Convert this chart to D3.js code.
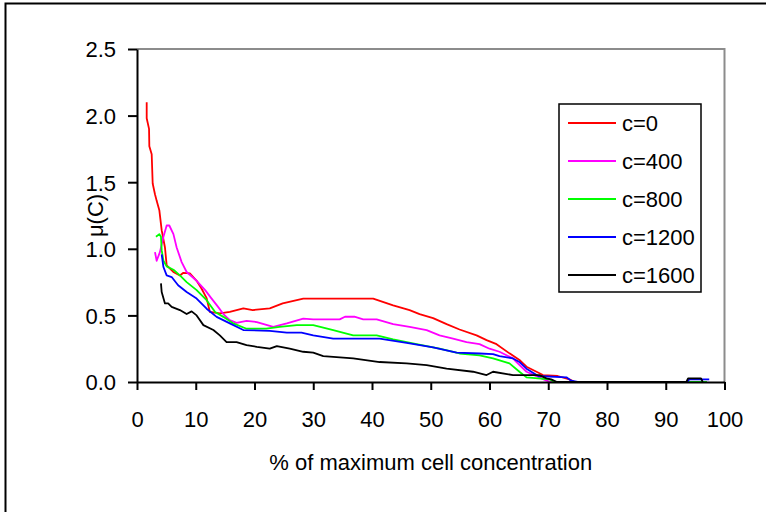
<!DOCTYPE html>
<html>
<head>
<meta charset="utf-8">
<script src="https://cdn.jsdelivr.net/npm/d3@7"></script>
<style>
  body { margin: 0; background: #fff; }
  svg { font-family: Arial, "Liberation Sans", sans-serif; }
</style>
</head>
<body>
<svg class="chart"></svg>
<script>
var xRed = [1.65, 1.65, 2.05, 2.1, 2.5, 2.67, 3.06, 3.35, 3.8, 4.2, 4.76, 5.05, 6.18, 7.3, 7.9, 9, 10.15, 11, 11.85, 12.4, 14.1, 15.8, 18.1, 19.7, 22.6, 24.8, 28.3, 32.8, 40.2, 43.6, 46.4, 48.1, 50.4, 52.7, 54.9, 57.8, 59.5, 61.2, 63.4, 65.1, 66.3, 68, 69.1, 71.6, 73.6, 74.5, 97];
var yRed = [2.1, 1.98, 1.9, 1.77, 1.71, 1.49, 1.41, 1.36, 1.29, 1.14, 1.01, 0.875, 0.826, 0.80, 0.82, 0.815, 0.76, 0.70, 0.63, 0.526, 0.515, 0.526, 0.553, 0.54, 0.553, 0.59, 0.626, 0.626, 0.626, 0.576, 0.54, 0.51, 0.48, 0.434, 0.394, 0.35, 0.314, 0.284, 0.215, 0.165, 0.115, 0.077, 0.052, 0.045, 0.02, 0, 0];

var xMag = [3.06, 3.35, 3.9, 4.5, 5.05, 5.5, 6.2, 6.75, 7.6, 8.45, 10.15, 11.6, 12.7, 13.8, 14.7, 15.8, 16.95, 18.65, 20.4, 23.2, 25.5, 28.3, 30, 34.5, 35.4, 37, 38.5, 40.8, 43.6, 46.4, 49.3, 51.5, 53.8, 56.1, 58.3, 60, 61.7, 64, 64.6, 66.3, 68.2, 69.7, 70.5, 97];
var yMag = [0.975, 0.91, 0.975, 1.09, 1.175, 1.175, 1.11, 1.01, 0.90, 0.826, 0.76, 0.69, 0.626, 0.564, 0.51, 0.464, 0.444, 0.459, 0.45, 0.414, 0.44, 0.476, 0.47, 0.47, 0.49, 0.49, 0.47, 0.47, 0.434, 0.414, 0.39, 0.35, 0.326, 0.30, 0.284, 0.25, 0.227, 0.177, 0.15, 0.077, 0.04, 0.01, 0, 0];

var xGreen = [3.23, 3.8, 4.08, 4.2, 4.5, 5.05, 6.2, 7.3, 8.45, 10.15, 11.85, 13.3, 14.7, 16.4, 18.65, 22, 24.3, 27.2, 30, 33.4, 36.8, 40.8, 43.6, 47.6, 51.5, 54.9, 58.3, 60.6, 63.4, 65.1, 66.3, 70.2, 71, 97];
var yGreen = [1.09, 1.11, 1.09, 0.99, 0.91, 0.868, 0.843, 0.80, 0.75, 0.69, 0.614, 0.526, 0.489, 0.44, 0.40, 0.40, 0.414, 0.427, 0.427, 0.39, 0.35, 0.35, 0.32, 0.284, 0.25, 0.214, 0.2, 0.177, 0.14, 0.077, 0.035, 0.02, 0, 0];

var xBlue = [4.2, 4.5, 5.05, 5.9, 7.0, 8.45, 10.15, 11.85, 13.55, 15.8, 18.1, 22.6, 25.5, 28, 30, 33.4, 41.3, 45.9, 50.4, 54.4, 58.3, 60.6, 61.7, 64, 65.1, 66.3, 68.3, 73.1, 73.9, 75, 93.7, 94, 97.4];
var yBlue = [0.958, 0.863, 0.80, 0.788, 0.726, 0.676, 0.626, 0.55, 0.489, 0.44, 0.39, 0.384, 0.37, 0.37, 0.35, 0.326, 0.326, 0.294, 0.26, 0.22, 0.214, 0.21, 0.195, 0.177, 0.15, 0.10, 0.045, 0.035, 0.01, 0, 0, 0.02, 0.02];

var xBlack = [4.08, 4.2, 4.76, 5.3, 5.9, 7.3, 8.45, 9.3, 10.15, 11.3, 13, 14.1, 15.25, 16.95, 18.65, 20.4, 22.6, 23.8, 26, 28.3, 30, 31.7, 36.8, 41.3, 45.9, 49.3, 52.7, 57.2, 59.5, 60.6, 64, 68.5, 69.7, 70.5, 71.5, 93.5, 93.8, 96, 96.3];
var yBlack = [0.74, 0.676, 0.59, 0.59, 0.564, 0.54, 0.51, 0.53, 0.50, 0.427, 0.39, 0.35, 0.30, 0.30, 0.277, 0.264, 0.25, 0.27, 0.25, 0.227, 0.22, 0.195, 0.177, 0.15, 0.14, 0.127, 0.10, 0.077, 0.052, 0.077, 0.052, 0.052, 0.027, 0.02, 0, 0, 0.027, 0.027, 0];

var seriesNames = ["c=0", "c=400", "c=800", "c=1200", "c=1600"];
var seriesColors = ["#ff0000", "#ff00ff", "#00ff00", "#0000ff", "#000000"];
var xTicks = [0, 10, 20, 30, 40, 50, 60, 70, 80, 90, 100];
var yTicks = [0, 0.5, 1.0, 1.5, 2.0, 2.5];

var series = [
  {name: seriesNames[0], color: seriesColors[0], xs: xRed, ys: yRed},
  {name: seriesNames[1], color: seriesColors[1], xs: xMag, ys: yMag},
  {name: seriesNames[2], color: seriesColors[2], xs: xGreen, ys: yGreen},
  {name: seriesNames[3], color: seriesColors[3], xs: xBlue, ys: yBlue},
  {name: seriesNames[4], color: seriesColors[4], xs: xBlack, ys: yBlack}
];

var screen = {width: 766, height: 512};
var svg = d3.select(".chart")
            .attr("width", screen.width)
            .attr("height", screen.height);

// outer frame (runs off the right and bottom edge)
svg.append("rect")
   .attr("x", 5.5).attr("y", 3.5)
   .attr("width", 900).attr("height", 700)
   .attr("fill", "none").attr("stroke", "black").attr("stroke-width", 2);

var plot = {left: 137, top: 49, right: 724.5, bottom: 382};

var xScale = d3.scaleLinear().domain([0, 100]).range([plot.left, plot.right]);
var yScale = d3.scaleLinear().domain([0, 2.5]).range([plot.bottom, plot.top]);

// grey top and right border of plot
svg.append("path")
   .attr("d", "M" + plot.left + "," + plot.top + "H" + plot.right + "V" + plot.bottom)
   .attr("fill", "none").attr("stroke", "#8c8c8c").attr("stroke-width", 2);

var line = d3.line()
             .x(function(d) { return xScale(d[0]); })
             .y(function(d) { return yScale(d[1]); });

svg.append("g").selectAll("path")
   .data(series)
   .enter()
   .append("path")
   .attr("d", function(s) { return line(s.xs.map(function(x, i) { return [x, s.ys[i]]; })); })
   .attr("fill", "none")
   .attr("stroke", function(s) { return s.color; })
   .attr("stroke-width", 1.8)
   .attr("stroke-linejoin", "round");

// axes
var xAxis = d3.axisBottom(xScale).tickValues(xTicks).tickSize(8).tickSizeOuter(0).tickPadding(21)
              .tickFormat(d3.format("d"));
var gx = svg.append("g").classed("xAxis", true)
   .attr("transform", "translate(0," + plot.bottom + ")")
   .call(xAxis);

var yAxis = d3.axisLeft(yScale).tickValues(yTicks).tickSize(9).tickSizeOuter(0).tickPadding(12)
              .tickFormat(d3.format(".1f"));
var gy = svg.append("g").classed("yAxis", true)
   .attr("transform", "translate(" + plot.left + ",0)")
   .call(yAxis);

[gx, gy].forEach(function(g) {
  g.select(".domain").attr("stroke", "black").attr("stroke-width", 2);
  g.selectAll(".tick line").attr("stroke", "black").attr("stroke-width", 2);
  g.selectAll(".tick text").attr("fill", "black")
   .style("font-size", "22px").style("font-family", "Arial, 'Liberation Sans', sans-serif");
});
gy.selectAll(".tick text").attr("dy", "0.36em");

// titles
svg.append("text")
   .attr("x", (plot.left + plot.right) / 2)
   .attr("y", 470)
   .attr("text-anchor", "middle")
   .style("font-size", "22px")
   .text("% of maximum cell concentration");

svg.append("text")
   .attr("transform", "translate(103," + ((plot.top + plot.bottom) / 2) + ") rotate(-90)")
   .attr("text-anchor", "middle")
   .style("font-size", "22px")
   .text("μ(C)");

// legend
var legend = svg.append("g").classed("legend", true);
legend.append("rect")
      .attr("x", 559).attr("y", 104)
      .attr("width", 142).attr("height", 188)
      .attr("fill", "white").attr("stroke", "black").attr("stroke-width", 1.5);

var legendLines = legend.selectAll("g.legendLine")
      .data(series)
      .enter()
      .append("g")
      .classed("legendLine", true)
      .attr("transform", function(d, i) { return "translate(0," + (123 + i * 38) + ")"; });

legendLines.append("line")
      .attr("x1", 568).attr("x2", 616)
      .attr("y1", 0).attr("y2", 0)
      .attr("stroke", function(d) { return d.color; })
      .attr("stroke-width", 2);

legendLines.append("text")
      .attr("x", 622).attr("y", 0).attr("dy", "0.36em")
      .style("font-size", "22px")
      .text(function(d) { return d.name; });
</script>
</body>
</html>
